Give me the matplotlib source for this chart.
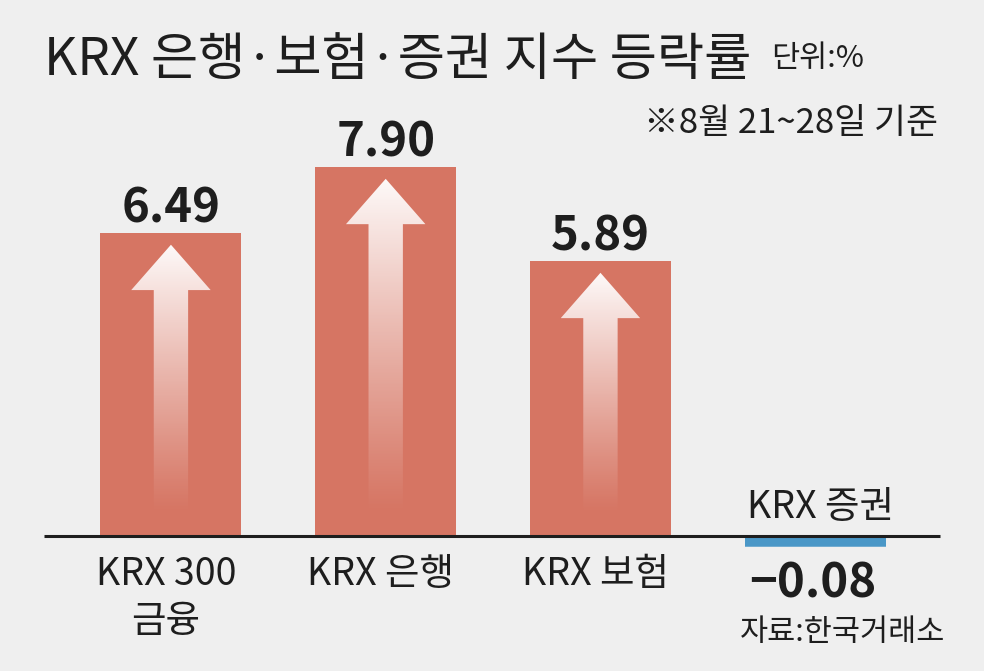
import numpy as np
import matplotlib
matplotlib.use('Agg')
import matplotlib.pyplot as plt
from matplotlib.patches import Polygon, Rectangle

# ---------------- data ----------------
categories = ['KRX 300\n금융', 'KRX 은행', 'KRX 보험', 'KRX 증권']
values = [6.49, 7.90, 5.89, -0.08]
value_labels = ['6.49', '7.90', '5.89', '−0.08']
title = 'KRX 은행·보험·증권 지수 등락률'
unit = '단위:%'
note = '※8월 21~28일 기준'
source = '자료:한국거래소'

# ---------------- style ----------------
BG = '#EFEFEF'
POS = '#D67563'
NEG = '#4A97C7'
INK = '#1E1E1E'
LAT = ['Noto Sans CJK KR', 'DejaVu Sans']
PX = 0.72  # points per pixel at dpi 100

plt.rcParams['font.family'] = LAT

fig = plt.figure(figsize=(9.84, 6.71), dpi=100, facecolor=BG)
ax = fig.add_axes([0, 0, 1, 1])
ax.set_facecolor(BG)
ax.axis('off')

x = np.arange(len(values))
W = 0.657
colors = [POS if v >= 0 else NEG for v in values]
bars = ax.bar(x, values, width=W, color=colors, zorder=2, linewidth=0)

# thicken the tiny negative bar visually (clipped below the baseline)
for b, v, xi in zip(bars, values, x):
    if v < 0:
        b.set_edgecolor(NEG)
        b.set_linewidth(9)
        clip = Rectangle((xi - W / 2, -3), W, 3, transform=ax.transData)
        b.set_clip_path(clip)

# gradient arrows inside the positive bars
hw, sw = 0.185, 0.08
for xi, v in zip(x, values):
    if v <= 0:
        continue
    tip = v - 0.26
    hb = tip - 0.97
    y0 = 0.49
    pts = [(xi - sw, y0), (xi + sw, y0), (xi + sw, hb), (xi + hw, hb),
           (xi, tip), (xi - hw, hb), (xi - sw, hb)]
    poly = Polygon(pts, closed=True, facecolor='none', edgecolor='none',
                   transform=ax.transData)
    ax.add_patch(poly)
    n = 256
    grad = np.ones((n, 1, 4))
    grad[:, 0, 3] = np.linspace(0.97, 0.0, n) ** 1.1
    im = ax.imshow(grad, extent=(xi - hw, xi + hw, y0, tip), aspect='auto',
                   interpolation='bilinear', zorder=3, origin='upper')
    im.set_clip_path(poly)

# baseline
ax.hlines(0, -0.592, 3.582, color=INK, lw=2.2, zorder=4)

ax.set_xlim(-0.796, 3.786)
ax.set_ylim(-2.888, 11.465)

# value labels
for xi, v, lbl in zip(x, values, value_labels):
    if v >= 0:
        off = (0, 10 * PX)
    else:
        off = (-2 * PX, -58 * PX)
    ax.annotate(lbl, xy=(xi, v), xytext=off, textcoords='offset points',
                ha='center', va='baseline', fontsize=34, fontweight='bold',
                color=INK, zorder=5)

# category labels
for xi, v, cat in zip(x, values, categories):
    nl = cat.count('\n')
    if v >= 0:
        off = (-5 * PX, (-49 - 47 * nl) * PX)
    else:
        off = (5 * PX, 18 * PX)
    ax.annotate(cat, xy=(xi, 0), xytext=off, textcoords='offset points',
                ha='center', va='baseline', fontsize=27, color=INK,
                linespacing=1.25, multialignment='center', zorder=5)

# titles and notes
fig.text(44 / 984, 1 - 75 / 671, title, fontsize=37, fontweight='medium',
         color=INK, ha='left', va='baseline')
fig.text(771 / 984, 1 - 67 / 671, unit, fontsize=22, color=INK,
         ha='left', va='baseline')
fig.text(938 / 984, 1 - 133 / 671, note, fontsize=25, color=INK,
         ha='right', va='baseline')
fig.text(945 / 984, 1 - 641 / 671, source, fontsize=22, color=INK,
         ha='right', va='baseline')

fig.savefig('out.png', dpi=100, facecolor=BG)
